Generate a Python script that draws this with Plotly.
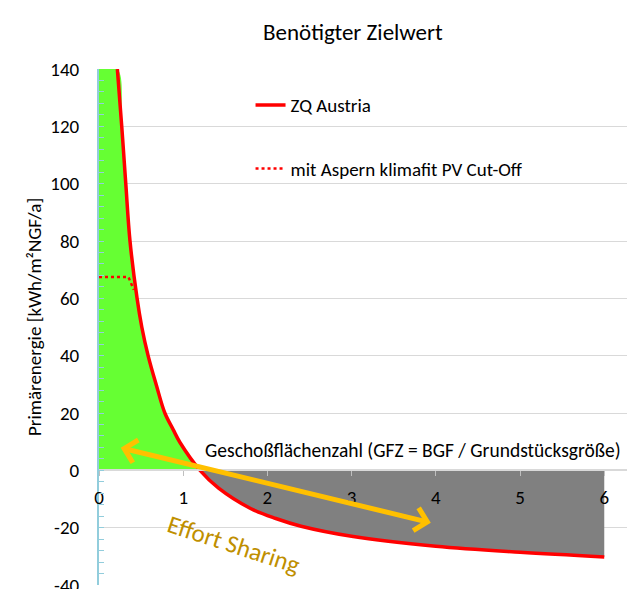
import plotly.graph_objects as go

# Geschoßflächenzahl (GFZ) vs. benötigter Zielwert Primärenergie
gfz = [0.218, 0.27, 0.318, 0.368, 0.452, 0.508, 0.583, 0.683, 0.782, 0.881, 0.96,
       1.20, 1.42, 1.80, 2.10, 2.40, 3.00, 4.00, 5.00, 6.0]
zq_austria = [140, 120, 100, 80, 60, 50, 40, 29.5, 20, 14.2, 9.8,
              0, -6.2, -13.3, -16.8, -19.5, -23.0, -26.5, -28.6, -30.2]

# PV Cut-Off
cutoff_gfz = [0, 0.35, 0.413]
cutoff_pe = [67.4, 67.4, 63.0]

y_ticks = [-40, -20, 0, 20, 40, 60, 80, 100, 120, 140]
y_labels = ["-40", "-20", "0", "20", "40", "60", "80", "100", "120", "140"]
x_ticks = [0, 1, 2, 3, 4, 5, 6]

FONT = "Calibri, Carlito, Lato, sans-serif"
RED = "#FF0000"
SMOOTH = 1.0

# split at the zero crossing for the two fills
k = zq_austria.index(0)
green_x = [0] + gfz[:k + 1]
green_y = [zq_austria[0]] + zq_austria[:k + 1]
grey_x = gfz[k:]
grey_y = zq_austria[k:]

fig = go.Figure()

fig.add_trace(go.Scatter(x=green_x, y=green_y, mode="lines", fill="tozeroy",
                         fillcolor="#66FF33", line=dict(width=0, shape="spline", smoothing=SMOOTH),
                         showlegend=False, hoverinfo="skip"))
fig.add_trace(go.Scatter(x=grey_x, y=grey_y, mode="lines", fill="tozeroy",
                         fillcolor="#808080", line=dict(width=0, shape="spline", smoothing=SMOOTH),
                         showlegend=False, hoverinfo="skip"))
fig.add_trace(go.Scatter(x=gfz, y=zq_austria, mode="lines", name="ZQ Austria",
                         legendgroup="a",
                         line=dict(color=RED, width=3.5, shape="spline", smoothing=SMOOTH)))
fig.add_trace(go.Scatter(x=cutoff_gfz, y=cutoff_pe, mode="lines",
                         name="mit Aspern klimafit PV Cut-Off", legendgroup="b",
                         line=dict(color=RED, width=2.5, dash="dot")))

# Effort-Sharing Doppelpfeil
fig.add_annotation(x=3.94, y=-18.3, ax=0.24, ay=8.0, xref="x", yref="y",
                   axref="x", ayref="y", text="", showarrow=True,
                   arrowhead=4, startarrowhead=4, arrowside="end+start",
                   arrowwidth=5, arrowsize=0.9, startarrowsize=0.9,
                   arrowcolor="#FFC000")

fig.add_annotation(x=1.23, y=7.2, xref="x", yref="y", xanchor="left", yanchor="middle",
                   text="Geschoßflächenzahl (GFZ = BGF / Grundstücksgröße)",
                   showarrow=False, font=dict(size=19.5, color="black", family=FONT))
fig.add_annotation(x=1.6, y=-26.0, xref="x", yref="y", textangle=18,
                   text="Effort Sharing", showarrow=False,
                   font=dict(size=25, color="#BF8F00", family=FONT))
fig.add_annotation(x=0.481, y=1.0716, xref="paper", yref="paper", yanchor="middle",
                   text="Benötigter Zielwert", showarrow=False,
                   font=dict(size=23, color="black", family=FONT))
fig.add_annotation(x=-0.148, y=0.52, xref="paper", yref="paper", textangle=-90,
                   text="Primärenergie [kWh/m²NGF/a]", showarrow=False,
                   font=dict(size=19, color="black", family=FONT))

# the page adds 8px around the figure, so left/top margins are 8px smaller
fig.update_layout(
    width=636, height=589,
    margin=dict(l=91, r=17, t=61, b=11.5),
    paper_bgcolor="white", plot_bgcolor="white",
    font=dict(family=FONT, size=19, color="black"),
    legend=dict(x=0.287, y=0.967, xanchor="left", yanchor="top",
                bgcolor="rgba(0,0,0,0)", tracegroupgap=36,
                font=dict(size=19, family=FONT)),
    xaxis=dict(range=[0, 6.27], tickvals=x_ticks, anchor="free", position=40 / 180,
               showgrid=False, zeroline=False, showline=True, linecolor="#D9D9D9",
               linewidth=1.5, ticks="outside", ticklen=5, tickcolor="#BFBFBF",
               ticklabelstandoff=5, tickfont=dict(size=19), automargin=False),
    yaxis=dict(range=[-40, 140], tickvals=y_ticks, ticktext=y_labels,
               showgrid=True, gridcolor="#D9D9D9",
               gridwidth=1, zeroline=False, showline=True, linecolor="#92CDDC",
               linewidth=2, ticks="inside", ticklen=5, tickcolor="#92CDDC",
               minor=dict(dtick=4, ticks="inside", ticklen=5, tickcolor="#92CDDC"),
               ticklabelstandoff=14, tickfont=dict(size=19), automargin=False),
)

fig.write_html("out.html")
